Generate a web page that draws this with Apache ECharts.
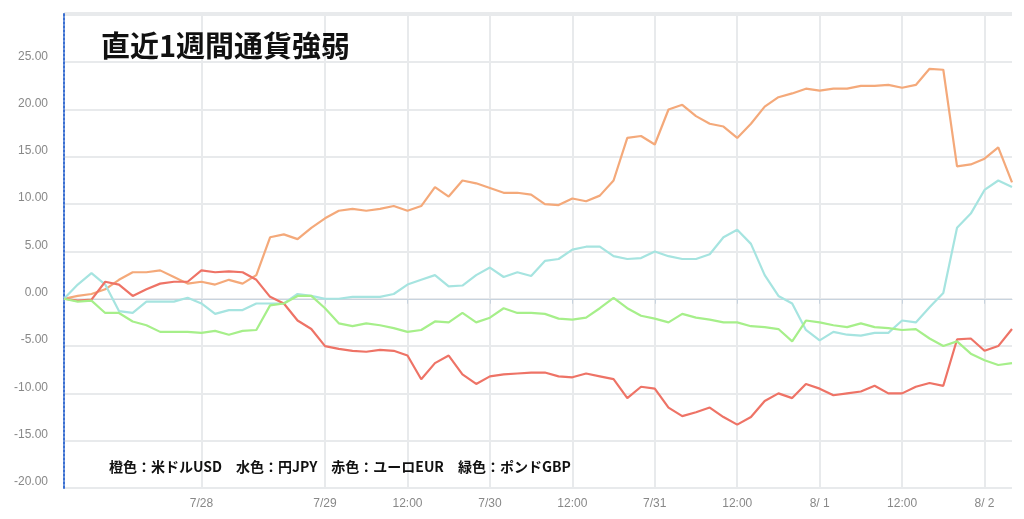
<!DOCTYPE html>
<html><head><meta charset="utf-8">
<script src="https://cdn.jsdelivr.net/npm/echarts@6/dist/echarts.min.js"></script>
<style>html,body{margin:0;padding:0;background:#fff}#c{width:1024px;height:519px}</style>
</head><body><div id="c"></div>
<script>
// tick labels placed at category indices (2-hour steps)
const tickLabels = {10:'7/28',19:'7/29',25:'12:00',31:'7/30',37:'12:00',43:'7/31',49:'12:00',55:'8/ 1',61:'12:00',67:'8/ 2'};
const N = 70;
const categories = Array.from({length:N},(_,i)=>tickLabels[i]||'');
const usd = [0,0.3,0.5,1,2.0,2.8,2.8,3.0,2.3,1.6,1.8,1.5,2,1.6,2.5,6.5,6.8,6.3,7.5,8.5,9.3,9.5,9.3,9.5,9.8,9.3,9.8,11.8,10.8,12.5,12.2,11.7,11.2,11.2,11,10,9.9,10.6,10.3,10.9,12.5,17,17.2,16.3,20,20.5,19.3,18.5,18.2,17,18.5,20.3,21.3,21.7,22.2,22,22.2,22.2,22.5,22.5,22.6,22.3,22.6,24.3,24.2,14,14.2,14.8,16,12.3];
const jpy = [0,1.5,2.7,1.5,-1.3,-1.5,-0.3,-0.3,-0.3,0.1,-0.5,-1.6,-1.2,-1.2,-0.5,-0.5,-0.5,0.5,0.3,0,0,0.2,0.2,0.2,0.5,1.5,2,2.5,1.3,1.4,2.5,3.3,2.3,2.8,2.4,4,4.2,5.2,5.5,5.5,4.5,4.2,4.3,5,4.5,4.2,4.2,4.7,6.5,7.3,5.8,2.5,0.3,-0.5,-3.3,-4.4,-3.5,-3.8,-3.9,-3.6,-3.6,-2.3,-2.5,-0.9,0.6,7.5,9,11.5,12.5,11.8];
const eur = [0,-0.2,-0.1,1.8,1.5,0.3,1,1.6,1.8,1.8,3,2.8,2.9,2.8,2,0.2,-0.5,-2.3,-3.2,-5,-5.3,-5.5,-5.6,-5.4,-5.5,-6,-8.5,-6.8,-6,-8,-9,-8.2,-8,-7.9,-7.8,-7.8,-8.2,-8.3,-7.9,-8.2,-8.5,-10.5,-9.3,-9.5,-11.5,-12.4,-12,-11.5,-12.5,-13.3,-12.5,-10.8,-10,-10.5,-9,-9.5,-10.2,-10,-9.8,-9.2,-10,-10,-9.3,-8.9,-9.2,-4.3,-4.2,-5.5,-5,-3.2];
const gbp = [0,-0.3,-0.2,-1.5,-1.5,-2.4,-2.8,-3.5,-3.5,-3.5,-3.6,-3.4,-3.8,-3.4,-3.3,-0.7,-0.5,0.3,0.3,-1,-2.6,-2.9,-2.6,-2.8,-3.1,-3.5,-3.3,-2.4,-2.5,-1.5,-2.5,-2,-1,-1.5,-1.5,-1.6,-2.1,-2.2,-2,-1,0.1,-1,-1.8,-2.1,-2.5,-1.6,-2,-2.2,-2.5,-2.5,-2.9,-3,-3.2,-4.5,-2.3,-2.5,-2.8,-3,-2.6,-3,-3.1,-3.3,-3.2,-4.2,-5,-4.5,-5.8,-6.5,-7,-6.8];
const yTicks = [-20,-15,-10,-5,0,5,10,15,20,25];
const legendText = '橙色：米ドルUSD　水色：円JPY　赤色：ユーロEUR　緑色：ポンドGBP';
const colors = ['#f4a97a','#a6e4e0','#ee7366','#a6ef8a'];
const names = ['USD','JPY','EUR','GBP'];
const showTick = (i)=> !!tickLabels[i];
const chart = echarts.init(document.getElementById('c'));
chart.setOption({
  animation:false,
  grid:{left:64,right:12,top:13,bottom:31},
  title:[{text:'直近1週間通貨強弱',left:96,top:26,textStyle:{fontFamily:'Noto Sans CJK JP',fontSize:29,fontWeight:'bold',color:'#111'}},
         {text:legendText,left:104,top:455,textStyle:{fontFamily:'Noto Sans CJK JP',fontSize:14,fontWeight:'bold',color:'#111'}}],
  xAxis:{type:'category',data:categories,boundaryGap:false,
    axisLine:{lineStyle:{color:'#c8d3de'}},
    axisTick:{interval:showTick,length:5,lineStyle:{color:'#c8d3de'}},
    axisLabel:{interval:showTick,color:'#888',fontSize:12,margin:10},
    splitLine:{show:true,interval:showTick,lineStyle:{color:'#e8eaec',width:2}}},
  yAxis:{type:'value',min:-20,max:30.2,
    axisLine:{show:true,lineStyle:{color:'#3a6fd1',type:'dotted',width:2}},
    axisTick:{show:false},
    axisLabel:{customValues:yTicks,formatter:v=>v.toFixed(2),color:'#888',fontSize:12,margin:16,verticalAlign:'bottom'},
    splitLine:{show:true,lineStyle:{color:'#e8eaec',width:2}},
    interval:5},
  series:[usd,jpy,eur,gbp].map((d,k)=>({type:'line',name:names[k],data:d,symbol:'none',lineStyle:{color:colors[k],width:2.2},itemStyle:{color:colors[k]}}))
});
</script></body></html>
